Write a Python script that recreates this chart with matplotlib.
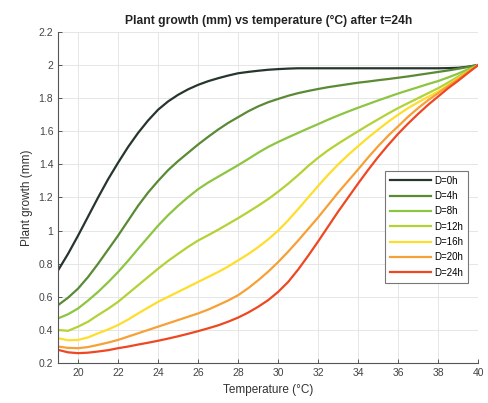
import matplotlib.pyplot as plt

plt.rcParams['font.family'] = ['Liberation Sans', 'DejaVu Sans']

# Temperature (°C), read every half degree
temp = [19, 19.5, 20, 20.5, 21, 21.5, 22, 22.5, 23, 23.5, 24, 24.5, 25, 25.5,
        26, 26.5, 27, 27.5, 28, 28.5, 29, 29.5, 30, 30.5, 31, 31.5, 32, 32.5,
        33, 33.5, 34, 34.5, 35, 35.5, 36, 36.5, 37, 37.5, 38, 38.5, 39, 39.5, 40]

# Plant growth (mm) for each D value
g_0h = [0.76, 0.86, 0.97, 1.085, 1.20, 1.31, 1.41, 1.505, 1.59, 1.665, 1.73,
        1.78, 1.82, 1.853, 1.88, 1.902, 1.92, 1.936, 1.95, 1.958, 1.965, 1.971,
        1.975, 1.978, 1.98, 1.98, 1.98, 1.98, 1.98, 1.98, 1.98, 1.98, 1.98,
        1.98, 1.98, 1.98, 1.98, 1.98, 1.98, 1.981, 1.983, 1.99, 2.0]
g_4h = [0.55, 0.595, 0.65, 0.72, 0.80, 0.885, 0.97, 1.06, 1.15, 1.23, 1.30,
        1.365, 1.42, 1.47, 1.52, 1.566, 1.61, 1.65, 1.685, 1.72, 1.75, 1.775,
        1.795, 1.814, 1.83, 1.843, 1.855, 1.866, 1.875, 1.884, 1.893, 1.90,
        1.908, 1.915, 1.923, 1.931, 1.94, 1.949, 1.958, 1.967, 1.977, 1.988, 2.0]
g_8h = [0.47, 0.495, 0.53, 0.578, 0.63, 0.688, 0.75, 0.818, 0.89, 0.96, 1.03,
        1.093, 1.15, 1.202, 1.25, 1.29, 1.325, 1.36, 1.395, 1.432, 1.47, 1.505,
        1.535, 1.563, 1.59, 1.617, 1.643, 1.67, 1.695, 1.719, 1.742, 1.764,
        1.786, 1.807, 1.828, 1.847, 1.866, 1.885, 1.903, 1.925, 1.948, 1.974, 2.0]
g_12h = [0.40, 0.395, 0.42, 0.45, 0.49, 0.528, 0.57, 0.62, 0.67, 0.72, 0.77,
         0.817, 0.86, 0.902, 0.94, 0.972, 1.005, 1.04, 1.075, 1.112, 1.15, 1.19,
         1.235, 1.283, 1.335, 1.39, 1.44, 1.485, 1.525, 1.563, 1.60, 1.637,
         1.672, 1.707, 1.74, 1.77, 1.80, 1.83, 1.86, 1.894, 1.93, 1.965, 2.0]
g_16h = [0.35, 0.338, 0.34, 0.355, 0.38, 0.403, 0.43, 0.463, 0.50, 0.535, 0.57,
         0.60, 0.63, 0.66, 0.69, 0.72, 0.75, 0.783, 0.82, 0.858, 0.90, 0.947,
         1.00, 1.062, 1.13, 1.20, 1.27, 1.337, 1.40, 1.457, 1.51, 1.562,
         1.61, 1.657, 1.70, 1.74, 1.775, 1.808, 1.84, 1.878, 1.92, 1.96, 2.0]
g_20h = [0.30, 0.292, 0.29, 0.297, 0.31, 0.324, 0.34, 0.36, 0.38, 0.40, 0.42,
         0.44, 0.46, 0.48, 0.50, 0.523, 0.55, 0.578, 0.61, 0.652, 0.70, 0.752,
         0.81, 0.873, 0.94, 1.01, 1.08, 1.155, 1.23, 1.30, 1.37, 1.442,
         1.51, 1.573, 1.63, 1.688, 1.74, 1.788, 1.83, 1.873, 1.915, 1.958, 2.0]
g_24h = [0.28, 0.265, 0.26, 0.263, 0.27, 0.278, 0.29, 0.30, 0.312, 0.323, 0.335,
         0.348, 0.362, 0.377, 0.393, 0.41, 0.428, 0.45, 0.475, 0.505, 0.54, 0.58,
         0.63, 0.69, 0.765, 0.848, 0.935, 1.025, 1.115, 1.20, 1.285, 1.367,
         1.445, 1.517, 1.585, 1.647, 1.705, 1.76, 1.81, 1.86, 1.905, 1.953, 2.0]

labels = ['D=0h', 'D=4h', 'D=8h', 'D=12h', 'D=16h', 'D=20h', 'D=24h']
series = [g_0h, g_4h, g_8h, g_12h, g_16h, g_20h, g_24h]
colors = ['#27362c', '#5a8a34', '#8cc540', '#b2d235', '#fede2c', '#f7a035', '#ee4722']

x_ticks = [20, 22, 24, 26, 28, 30, 32, 34, 36, 38, 40]
y_ticks = [0.2, 0.4, 0.6, 0.8, 1, 1.2, 1.4, 1.6, 1.8, 2, 2.2]
y_tick_labels = ['0.2', '0.4', '0.6', '0.8', '1', '1.2', '1.4', '1.6', '1.8', '2', '2.2']

fig = plt.figure(figsize=(4.88, 4.03), dpi=100)
ax = fig.add_axes([0.119, 0.099, 0.861, 0.822])

for vals, lab, col in zip(series, labels, colors):
    ax.plot(temp, vals, color=col, linewidth=1.6, label=lab)

ax.set_xlim(19, 40)
ax.set_ylim(0.2, 2.2)
ax.set_xticks(x_ticks)
ax.set_yticks(y_ticks)
ax.set_yticklabels(y_tick_labels)
ax.grid(True, color='#e6e6e6', linewidth=0.7)
ax.set_axisbelow(True)

for side in ['top', 'right']:
    ax.spines[side].set_visible(False)
for side in ['left', 'bottom']:
    ax.spines[side].set_color('#555555')
    ax.spines[side].set_linewidth(0.8)
ax.tick_params(direction='in', length=3, width=0.7, colors='#555555',
               labelsize=7.5, labelcolor='#444444')

ax.set_title('Plant growth (mm) vs temperature (°C) after t=24h',
             fontsize=8.7, fontweight='bold', color='#222222', pad=6)
ax.set_xlabel('Temperature (°C)', fontsize=8.5, color='#333333', labelpad=4)
ax.set_ylabel('Plant growth (mm)', fontsize=8.5, color='#333333', labelpad=4)

leg = ax.legend(loc='upper right', bbox_to_anchor=(0.988, 0.595), fontsize=7,
                handlelength=4.2, handletextpad=0.4, labelspacing=0.55,
                borderpad=0.5, fancybox=False, framealpha=1,
                edgecolor='#777777')
leg.get_frame().set_linewidth(0.8)

fig.savefig('out.png', dpi=100)
